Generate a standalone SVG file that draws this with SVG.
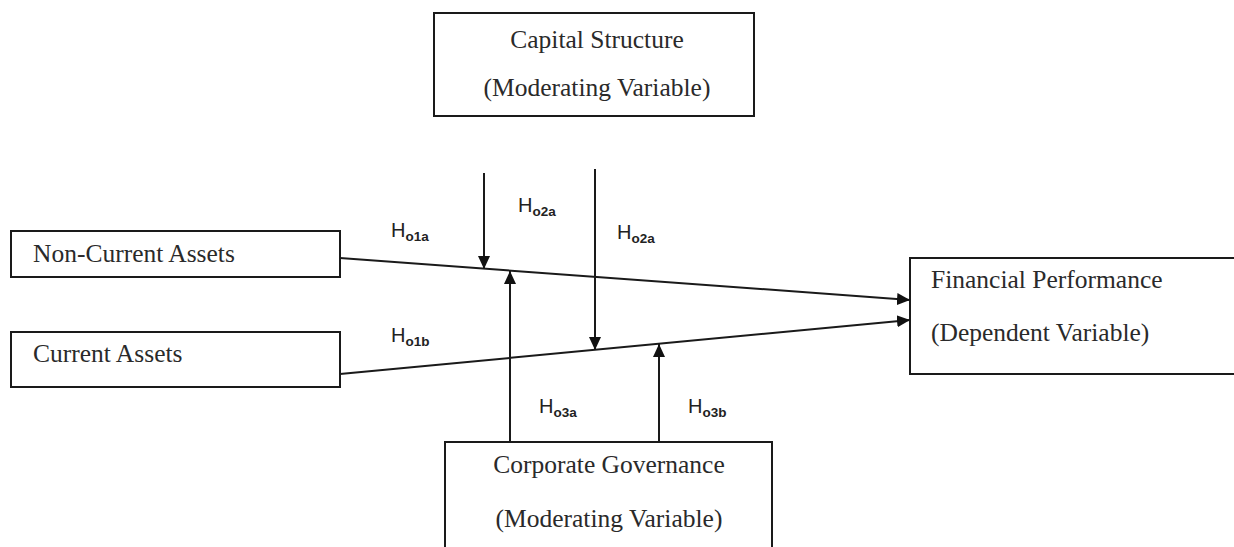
<svg xmlns="http://www.w3.org/2000/svg" width="1234" height="547" viewBox="0 0 1234 547">
  <style>
    .box { fill: #ffffff; stroke: #1a1a1a; stroke-width: 2; }
    .t { font-family: "Liberation Serif", "Times New Roman", serif; font-size: 25.5px; fill: #2a2a2a; }
    .lbl { font-family: "Liberation Sans", Arial, sans-serif; font-size: 20px; fill: #222222; }
    .sub { font-size: 13.5px; font-weight: bold; }
    .conn { stroke: #1a1a1a; stroke-width: 2; fill: none; marker-end: url(#arrow); }
  </style>
  <defs>
    <marker id="arrow" markerUnits="userSpaceOnUse" markerWidth="14" markerHeight="14" refX="13" refY="7" orient="auto">
      <path d="M0,1 L13,7 L0,13 z" fill="#111111"/>
    </marker>
  </defs>
  <rect width="1234" height="547" fill="#ffffff"/>

  <g id="capital-structure">
    <rect class="box" x="434" y="13" width="320" height="103"/>
    <text class="t" x="597" y="48" text-anchor="middle">Capital Structure</text>
    <text class="t" x="597" y="96" text-anchor="middle">(Moderating Variable)</text>
  </g>

  <g id="non-current-assets">
    <rect class="box" x="11" y="231" width="329" height="46"/>
    <text class="t" x="33" y="262">Non-Current Assets</text>
  </g>

  <g id="current-assets">
    <rect class="box" x="11" y="332" width="329" height="55"/>
    <text class="t" x="33" y="362">Current Assets</text>
  </g>

  <g id="financial-performance">
    <rect class="box" x="910" y="258" width="340" height="116"/>
    <text class="t" x="931" y="288">Financial Performance</text>
    <text class="t" x="931" y="341">(Dependent Variable)</text>
  </g>

  <g id="corporate-governance">
    <rect class="box" x="445" y="442" width="327" height="120"/>
    <text class="t" x="609" y="473" text-anchor="middle">Corporate Governance</text>
    <text class="t" x="609" y="527" text-anchor="middle">(Moderating Variable)</text>
  </g>

  <g id="connectors">
    <line class="conn" x1="340" y1="258" x2="910" y2="300"/>
    <line class="conn" x1="340" y1="374" x2="910" y2="320"/>
    <line class="conn" x1="484" y1="173" x2="484" y2="269"/>
    <line class="conn" x1="595" y1="169" x2="595" y2="350"/>
    <line class="conn" x1="510" y1="442" x2="510" y2="271"/>
    <line class="conn" x1="659" y1="442" x2="659" y2="344"/>
  </g>

  <g id="labels">
    <text class="lbl" x="391" y="237">H<tspan class="sub" dy="4">o1a</tspan></text>
    <text class="lbl" x="391" y="342">H<tspan class="sub" dy="4">o1b</tspan></text>
    <text class="lbl" x="518" y="212">H<tspan class="sub" dy="4">o2a</tspan></text>
    <text class="lbl" x="617" y="239">H<tspan class="sub" dy="4">o2a</tspan></text>
    <text class="lbl" x="539" y="413">H<tspan class="sub" dy="4">o3a</tspan></text>
    <text class="lbl" x="688" y="413">H<tspan class="sub" dy="4">o3b</tspan></text>
  </g>
</svg>
